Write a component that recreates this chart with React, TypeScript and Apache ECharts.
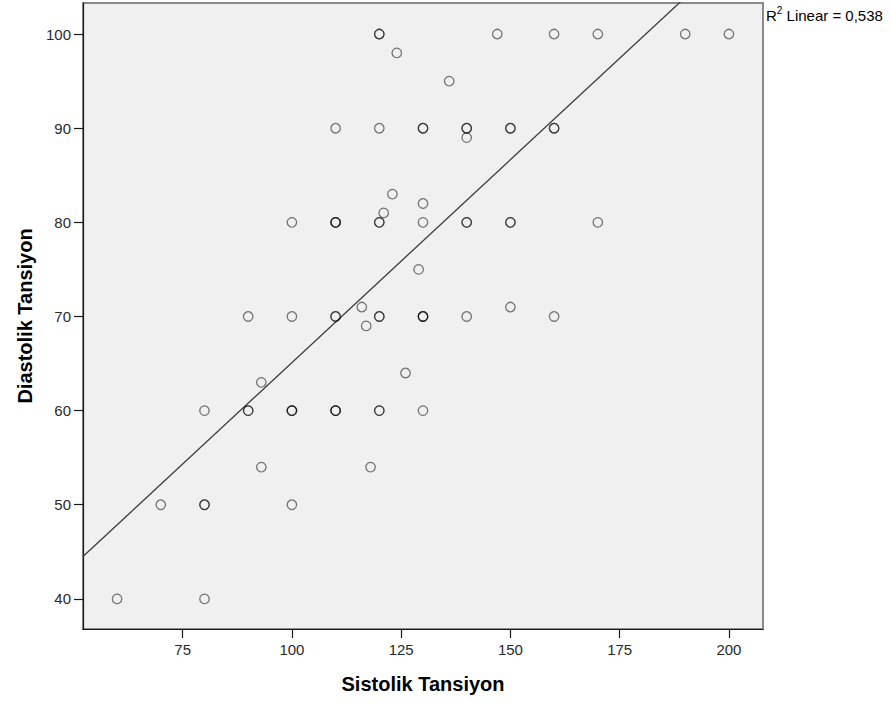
import React, { useEffect, useRef } from "react";
import * as echarts from "echarts";

// Systolic / diastolic pairs; repeated pairs are patients with identical readings
const sistolik = [
  60, 80, 70, 80, 80, 100, 93, 118,
  80, 90, 90, 100, 100, 100, 110, 110, 110, 120, 120, 130,
  93, 126, 117,
  90, 100, 110, 110, 116, 120, 120, 130, 130, 130, 140, 150, 160,
  129,
  100, 110, 110, 110, 120, 120, 121, 130, 130, 123, 140, 140, 150, 150, 170,
  140, 110, 120, 130, 130, 140, 140, 150, 150, 160, 160,
  136, 124, 120, 120, 147, 160, 170, 190, 200,
];
const diastolik = [
  40, 40, 50, 50, 50, 50, 54, 54,
  60, 60, 60, 60, 60, 60, 60, 60, 60, 60, 60, 60,
  63, 64, 69,
  70, 70, 70, 70, 71, 70, 70, 70, 70, 70, 70, 71, 70,
  75,
  80, 80, 80, 80, 80, 80, 81, 82, 80, 83, 80, 80, 80, 80, 80,
  89, 90, 90, 90, 90, 90, 90, 90, 90, 90, 90,
  95, 98, 100, 100, 100, 100, 100, 100, 100,
];

// Linear fit: diastolik = intercept + slope * sistolik
const fitIntercept = 22.0;
const fitSlope = 0.431;
const rSquared = "0,538";

const xTicks = [75, 100, 125, 150, 175, 200];
const yTicks = [40, 50, 60, 70, 80, 90, 100];
const xRange = [52.2, 207.8];
const yRange = [36.8, 103.3];

const FONT = "'Liberation Sans', Arial, sans-serif";

export default function App() {
  const ref = useRef<HTMLDivElement>(null);

  useEffect(() => {
    if (!ref.current) return;
    const chart = echarts.init(ref.current, undefined, { renderer: "svg" });
    const points = sistolik.map((s, i) => [s, diastolik[i]]);
    const fitLine = xRange.map((x) => [x, fitIntercept + fitSlope * x]);

    chart.setOption({
      animation: false,
      backgroundColor: "#ffffff",
      textStyle: { fontFamily: FONT },
      grid: {
        left: 83,
        right: 128,
        top: 3,
        bottom: 73,
        show: true,
        backgroundColor: "#f0f0f0",
        borderColor: "#8a8a8a",
        borderWidth: 2,
      },
      xAxis: {
        type: "value",
        min: xRange[0],
        max: xRange[1],
        name: "Sistolik Tansiyon",
        nameLocation: "middle",
        nameGap: 45,
        nameTextStyle: { fontSize: 20, fontWeight: "bold", color: "#000", fontFamily: FONT },
        axisLine: { show: true, onZero: false, lineStyle: { color: "#1a1a1a", width: 1.2 } },
        axisTick: { show: true, length: 9, customValues: xTicks, lineStyle: { color: "#1a1a1a", width: 1.2 } },
        axisLabel: { customValues: xTicks, margin: 13, fontSize: 15, color: "#2a2a2a", fontFamily: FONT },
        splitLine: { show: false },
      },
      yAxis: {
        type: "value",
        min: yRange[0],
        max: yRange[1],
        name: "Diastolik Tansiyon",
        nameLocation: "middle",
        nameGap: 48,
        nameTextStyle: { fontSize: 20, fontWeight: "bold", color: "#000", fontFamily: FONT },
        axisLine: { show: true, onZero: false, lineStyle: { color: "#1a1a1a", width: 1.2 } },
        axisTick: { show: true, length: 9, customValues: yTicks, lineStyle: { color: "#1a1a1a", width: 1.2 } },
        axisLabel: { customValues: yTicks, margin: 12, fontSize: 15, color: "#2a2a2a", fontFamily: FONT },
        splitLine: { show: false },
      },
      series: [
        {
          type: "line",
          data: fitLine,
          symbol: "none",
          clip: true,
          lineStyle: { color: "#3a3a3a", width: 1.3 },
          z: 2,
        },
        {
          type: "scatter",
          data: points,
          symbol: "circle",
          symbolSize: 9.5,
          itemStyle: {
            color: "rgba(0,0,0,0)",
            borderColor: "rgba(0,0,0,0.65)",
            borderWidth: 1.3,
          },
          z: 3,
        },
      ],
      graphic: [
        {
          type: "text",
          left: 766,
          top: 5,
          style: {
            text: "{r|R}{s|2}{r| Linear = " + rSquared + "}",
            fill: "#000",
            rich: {
              r: { fontSize: 15, fontFamily: FONT, lineHeight: 18, verticalAlign: "bottom" },
              s: { fontSize: 10, fontFamily: FONT, lineHeight: 18, verticalAlign: "top" },
            },
          },
        },
      ],
    });

    return () => chart.dispose();
  }, []);

  return (
    <div
      ref={ref}
      style={{ position: "fixed", left: 0, top: 0, width: 891, height: 702 }}
    />
  );
}
